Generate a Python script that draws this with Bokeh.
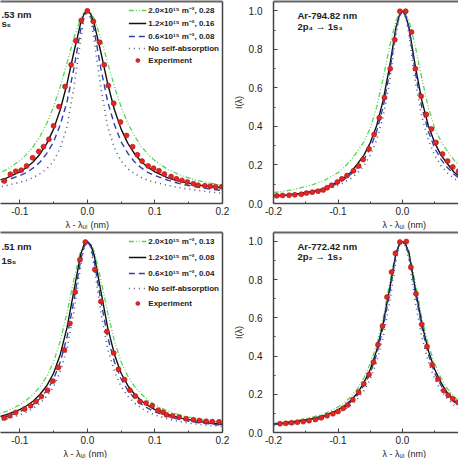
from bokeh.plotting import figure
from bokeh.layouts import column, row
from bokeh.models import (LinearAxis, SingleIntervalTicker, FixedTicker, PrintfTickFormatter,
                          Title, Legend, LegendItem, Range1d)
from bokeh.core.properties import value
from bokeh.embed import file_html
from bokeh.resources import INLINE

FONT = "Liberation Sans"

# common wavelength grid (nm) for model curves
X = [-0.20, -0.18, -0.16, -0.14, -0.12, -0.10, -0.09, -0.08, -0.07, -0.06, -0.05, -0.04,
     -0.03, -0.02, -0.01, -0.005, 0.0, 0.005, 0.01, 0.02, 0.03, 0.04, 0.05, 0.06, 0.07,
     0.08, 0.09, 0.10, 0.12, 0.14, 0.16, 0.18, 0.20]

series_names = ["2.0×10¹⁵ m⁻²", "1.2×10¹⁵ m⁻²", "0.6×10¹⁵ m⁻²", "No self-absorption", "Experiment"]

# ---- Top-left (visible part of the line label)
tl_text = [".53 nm", "s₅"]
tl_ratios = ["0.28", "0.16", "0.08"]
tl_green = [0.095, 0.107, 0.122, 0.144, 0.175, 0.222, 0.255, 0.296, 0.349, 0.416, 0.502, 0.608,
            0.731, 0.858, 0.960, 0.990, 1.0, 0.990, 0.960, 0.858, 0.731, 0.608, 0.502, 0.416,
            0.349, 0.296, 0.255, 0.222, 0.175, 0.144, 0.122, 0.107, 0.095]
tl_black = [0.081, 0.088, 0.098, 0.112, 0.132, 0.164, 0.187, 0.217, 0.257, 0.312, 0.386, 0.488,
            0.623, 0.785, 0.935, 0.983, 1.0, 0.983, 0.935, 0.785, 0.623, 0.488, 0.386, 0.312,
            0.257, 0.217, 0.187, 0.164, 0.132, 0.112, 0.098, 0.088, 0.081]
tl_blue = [0.067, 0.076, 0.087, 0.100, 0.120, 0.145, 0.160, 0.185, 0.215, 0.260, 0.320, 0.410,
           0.530, 0.700, 0.900, 0.972, 1.0, 0.972, 0.900, 0.700, 0.530, 0.410, 0.320, 0.260,
           0.215, 0.185, 0.160, 0.145, 0.120, 0.100, 0.087, 0.076, 0.067]
tl_dot = [0.053, 0.060, 0.070, 0.080, 0.093, 0.110, 0.120, 0.135, 0.155, 0.180, 0.220, 0.290,
          0.400, 0.600, 0.850, 0.960, 1.0, 0.960, 0.850, 0.600, 0.400, 0.290, 0.220, 0.180,
          0.155, 0.135, 0.120, 0.110, 0.093, 0.080, 0.070, 0.060, 0.053]
tl_exp_x = [-0.123, -0.114, -0.106, -0.098, -0.090, -0.081, -0.072, -0.065, -0.057, -0.050,
            -0.042, -0.033, -0.024, -0.017, -0.009, 0.0, 0.009, 0.018, 0.025, 0.031, 0.039,
            0.049, 0.058, 0.067, 0.074, 0.081, 0.090, 0.098, 0.106, 0.114, 0.124, 0.132,
            0.140, 0.148, 0.157, 0.164, 0.174, 0.182, 0.190, 0.199]
tl_exp_y = [0.117, 0.152, 0.167, 0.173, 0.195, 0.237, 0.270, 0.295, 0.333, 0.403, 0.503, 0.607,
            0.720, 0.845, 0.950, 1.0, 0.945, 0.837, 0.720, 0.612, 0.520, 0.423, 0.353, 0.295,
            0.253, 0.220, 0.195, 0.183, 0.170, 0.153, 0.140, 0.128, 0.120, 0.112, 0.103,
            0.095, 0.092, 0.090, 0.087, 0.087]

# ---- Top-right: Ar-794.82 nm
tr_text = ["Ar-794.82 nm", "2p₄ → 1s₃"]
tr_green = [0.056, 0.066, 0.080, 0.097, 0.122, 0.160, 0.190, 0.225, 0.270, 0.320, 0.390, 0.500,
            0.650, 0.815, 0.950, 0.985, 1.0, 0.985, 0.950, 0.815, 0.650, 0.500, 0.390, 0.320,
            0.270, 0.225, 0.190, 0.160, 0.122, 0.097, 0.080, 0.066, 0.056]
tr_black = [0.040, 0.045, 0.052, 0.062, 0.078, 0.114, 0.135, 0.162, 0.205, 0.250, 0.315, 0.405,
            0.535, 0.710, 0.915, 0.975, 1.0, 0.975, 0.915, 0.710, 0.535, 0.405, 0.315, 0.250,
            0.205, 0.162, 0.135, 0.114, 0.078, 0.062, 0.052, 0.045, 0.040]
tr_blue = [0.038, 0.043, 0.050, 0.060, 0.074, 0.105, 0.126, 0.152, 0.185, 0.228, 0.287, 0.375,
           0.500, 0.680, 0.905, 0.972, 1.0, 0.972, 0.905, 0.680, 0.500, 0.375, 0.287, 0.228,
           0.185, 0.152, 0.126, 0.105, 0.074, 0.060, 0.050, 0.043, 0.038]
tr_dot = [0.036, 0.040, 0.046, 0.055, 0.068, 0.094, 0.110, 0.130, 0.158, 0.195, 0.250, 0.330,
          0.450, 0.630, 0.880, 0.965, 1.0, 0.965, 0.880, 0.630, 0.450, 0.330, 0.250, 0.195,
          0.158, 0.130, 0.110, 0.094, 0.068, 0.055, 0.046, 0.040, 0.036]
tr_exp_x = [-0.195, -0.186, -0.176, -0.167, -0.157, -0.149, -0.140, -0.131, -0.123, -0.117,
            -0.110, -0.101, -0.094, -0.086, -0.076, -0.068, -0.061, -0.052, -0.044, -0.036,
            -0.028, -0.019, -0.012, -0.004, 0.005, 0.014, 0.020, 0.029, 0.037, 0.045, 0.052,
            0.062, 0.070, 0.078, 0.087]
tr_exp_y = [0.040, 0.042, 0.043, 0.045, 0.048, 0.054, 0.059, 0.064, 0.070, 0.082, 0.095, 0.112,
            0.128, 0.145, 0.170, 0.195, 0.228, 0.283, 0.358, 0.445, 0.550, 0.700, 0.850, 0.998,
            0.998, 0.890, 0.700, 0.557, 0.462, 0.387, 0.317, 0.257, 0.220, 0.190, 0.167]

# ---- Bottom-left (visible part of the line label)
bl_text = [".51 nm", "1s₅"]
bl_ratios = ["0.13", "0.08", "0.04"]
bl_green = [0.052, 0.060, 0.072, 0.088, 0.110, 0.145, 0.170, 0.200, 0.240, 0.295, 0.370, 0.480,
            0.630, 0.800, 0.950, 0.987, 1.0, 0.987, 0.950, 0.800, 0.630, 0.480, 0.370, 0.295,
            0.240, 0.200, 0.170, 0.145, 0.110, 0.088, 0.072, 0.060, 0.052]
bl_black = [0.043, 0.050, 0.061, 0.074, 0.093, 0.120, 0.140, 0.165, 0.200, 0.245, 0.310, 0.410,
            0.550, 0.740, 0.930, 0.982, 1.0, 0.982, 0.930, 0.740, 0.550, 0.410, 0.310, 0.245,
            0.200, 0.165, 0.140, 0.120, 0.093, 0.074, 0.061, 0.050, 0.043]
bl_blue = [0.038, 0.045, 0.054, 0.066, 0.083, 0.108, 0.126, 0.148, 0.178, 0.220, 0.280, 0.370,
           0.500, 0.690, 0.900, 0.972, 1.0, 0.972, 0.900, 0.690, 0.500, 0.370, 0.280, 0.220,
           0.178, 0.148, 0.126, 0.108, 0.083, 0.066, 0.054, 0.045, 0.038]
bl_dot = [0.032, 0.037, 0.045, 0.055, 0.070, 0.092, 0.107, 0.127, 0.153, 0.190, 0.240, 0.320,
          0.440, 0.630, 0.870, 0.965, 1.0, 0.965, 0.870, 0.630, 0.440, 0.320, 0.240, 0.190,
          0.153, 0.127, 0.107, 0.092, 0.070, 0.055, 0.045, 0.037, 0.032]
bl_exp_x = [-0.123, -0.115, -0.106, -0.093, -0.084, -0.076, -0.068, -0.059, -0.051, -0.043,
            -0.034, -0.026, -0.018, -0.011, -0.003, 0.011, 0.020, 0.029, 0.039, 0.046, 0.055,
            0.063, 0.071, 0.078, 0.087, 0.096, 0.105, 0.112, 0.117, 0.126, 0.136, 0.146,
            0.157, 0.166, 0.176, 0.185, 0.195]
bl_exp_y = [0.076, 0.088, 0.105, 0.123, 0.140, 0.162, 0.188, 0.221, 0.269, 0.340, 0.432, 0.571,
            0.736, 0.904, 0.997, 0.853, 0.686, 0.529, 0.416, 0.331, 0.277, 0.221, 0.191, 0.162,
            0.154, 0.140, 0.117, 0.106, 0.093, 0.087, 0.081, 0.072, 0.067, 0.063, 0.059,
            0.057, 0.056]

# ---- Bottom-right: Ar-772.42 nm
br_text = ["Ar-772.42 nm", "2p₂ → 1s₃"]
br_green = [0.048, 0.055, 0.066, 0.080, 0.100, 0.133, 0.157, 0.188, 0.228, 0.285, 0.360, 0.460,
            0.600, 0.780, 0.950, 0.987, 1.0, 0.987, 0.950, 0.780, 0.600, 0.460, 0.360, 0.285,
            0.228, 0.188, 0.157, 0.133, 0.100, 0.080, 0.066, 0.055, 0.048]
br_black = [0.044, 0.051, 0.060, 0.072, 0.090, 0.118, 0.140, 0.168, 0.205, 0.260, 0.330, 0.430,
            0.570, 0.750, 0.940, 0.984, 1.0, 0.984, 0.940, 0.750, 0.570, 0.430, 0.330, 0.260,
            0.205, 0.168, 0.140, 0.118, 0.090, 0.072, 0.060, 0.051, 0.044]
br_blue = [0.041, 0.047, 0.056, 0.068, 0.085, 0.112, 0.133, 0.160, 0.195, 0.245, 0.310, 0.410,
           0.550, 0.730, 0.930, 0.981, 1.0, 0.981, 0.930, 0.730, 0.550, 0.410, 0.310, 0.245,
           0.195, 0.160, 0.133, 0.112, 0.085, 0.068, 0.056, 0.047, 0.041]
br_dot = [0.037, 0.042, 0.050, 0.061, 0.077, 0.102, 0.120, 0.143, 0.175, 0.218, 0.280, 0.370,
          0.500, 0.680, 0.900, 0.974, 1.0, 0.974, 0.900, 0.680, 0.500, 0.370, 0.280, 0.218,
          0.175, 0.143, 0.120, 0.102, 0.077, 0.061, 0.050, 0.042, 0.037]
br_exp_x = [-0.190, -0.181, -0.172, -0.163, -0.154, -0.145, -0.135, -0.126, -0.117, -0.108,
            -0.100, -0.092, -0.085, -0.077, -0.068, -0.060, -0.052, -0.045, -0.038, -0.031,
            -0.024, -0.017, -0.011, -0.004, 0.006, 0.013, 0.021, 0.030, 0.038, 0.046, 0.055,
            0.064, 0.071, 0.078, 0.086]
br_exp_y = [0.046, 0.048, 0.051, 0.054, 0.057, 0.062, 0.068, 0.077, 0.088, 0.098, 0.110, 0.127,
            0.144, 0.172, 0.211, 0.255, 0.304, 0.368, 0.460, 0.557, 0.709, 0.840, 0.938, 0.997,
            1.0, 0.865, 0.726, 0.566, 0.450, 0.355, 0.280, 0.220, 0.195, 0.177, 0.157]

STYLES = [
    dict(line_color="#55d655", line_width=1.3, line_dash="5 2 1 2 1 2"),
    dict(line_color="#111111", line_width=1.4),
    dict(line_color="#2f3fae", line_width=1.4, line_dash="6 4"),
    dict(line_color="#4a5a7c", line_width=1.6, line_dash="1 4"),
]
AXIS_COL = "#444444"


def border_axis(color, width):
    return LinearAxis(ticker=FixedTicker(ticks=[]), axis_line_color=color, axis_line_width=width,
                      major_tick_in=0, major_tick_out=0, minor_tick_in=0, minor_tick_out=0,
                      major_label_text_font_size="0px", major_label_standoff=0,
                      axis_label=None)


def panel(side, width, height, xr, yr, mb, curves, ex, ey, labels, lab_x, lab_y,
          leg_labels, leg_spacing, leg_loc, title_offset):
    p = figure(width=width, height=height, x_range=Range1d(*xr), y_range=Range1d(*yr),
               output_backend="svg", toolbar_location=None, title_location=None,
               y_axis_location=("left" if side == "right" else None),
               min_border_left=mb[0], min_border_right=mb[1], min_border_top=mb[2],
               min_border_bottom=mb[3])
    p.outline_line_color = None
    p.grid.visible = False
    p.background_fill_color = "white"
    p.border_fill_color = "white"

    xa = p.xaxis[0]
    xa.ticker = SingleIntervalTicker(interval=0.1, num_minor_ticks=2)
    xa.formatter = PrintfTickFormatter(format="%.1f")
    for ax in [xa] + ([p.yaxis[0]] if side == "right" else []):
        ax.major_tick_in = 4
        ax.major_tick_out = 0
        ax.minor_tick_in = 2
        ax.minor_tick_out = 0
        ax.axis_line_color = AXIS_COL
        ax.axis_line_width = 1.5
        ax.major_tick_line_color = AXIS_COL
        ax.minor_tick_line_color = AXIS_COL
        ax.major_label_text_font = FONT
        ax.major_label_text_font_size = "10px"
        ax.major_label_text_color = "#222222"
    xa.major_label_standoff = 3
    xa.axis_label = None
    if side == "right":
        ya = p.yaxis[0]
        ya.ticker = SingleIntervalTicker(interval=0.2, num_minor_ticks=2)
        ya.formatter = PrintfTickFormatter(format="%.1f")
        ya.major_label_standoff = 11
        ya.axis_label = "I(λ)"
        ya.axis_label_standoff = 2
        ya.axis_label_text_font = FONT
        ya.axis_label_text_font_size = "9px"
        ya.axis_label_text_font_style = "normal"
        ya.axis_label_text_color = "#222222"

    p.add_layout(border_axis("#666666", 2), "above")
    if side == "left":
        p.add_layout(border_axis(AXIS_COL, 1.5), "right")

    t = Title(text="λ - λᵤₗ (nm)", align="left", offset=title_offset, standoff=0,
              text_font=FONT, text_font_size="9px", text_font_style="normal",
              text_color="#222222")
    p.add_layout(t, "below")

    rends = []
    for ys, st in zip(curves, STYLES):
        rends.append(p.line(X, ys, **st))
    rends.append(p.scatter(ex, ey, size=5, marker="circle", fill_color="#e3261f",
                           line_color="#a8141a", line_width=0.6))

    p.text(x=[lab_x, lab_x], y=lab_y, text=labels, text_font=value(FONT),
           text_font_style="bold", text_font_size="9.5px", text_baseline="middle",
           text_align="left", text_color="#222222")

    items = [LegendItem(label=l, renderers=[r]) for l, r in zip(leg_labels, rends)]
    leg = Legend(items=items, location=leg_loc, border_line_color=None,
                 background_fill_alpha=0, label_text_font=FONT, label_text_font_size="8px",
                 label_text_font_style="bold", label_text_color="#222222",
                 glyph_width=18, glyph_height=10, label_height=10, label_standoff=2,
                 spacing=leg_spacing, padding=0, margin=3)
    p.add_layout(leg)
    return p


def full_labels(ratios):
    return [f"{series_names[i]}, {ratios[i]}" for i in range(3)] + series_names[3:]


# right-hand panels: only the legend samples show at the cropped edge
stub_labels = [" "] * 5

tl = panel("left", 230, 230, (-0.1286, 0.2001), (0, 1.0485), (0, 8, 1, 27),
           [tl_green, tl_black, tl_blue, tl_dot], tl_exp_x, tl_exp_y,
           tl_text, -0.1272, [0.983, 0.932],
           full_labels(tl_ratios), 2, "top_right", 65)
tr = panel("right", 228, 230, (-0.2001, 0.0869), (0, 1.0485), (34, 0, 1, 27),
           [tr_green, tr_black, tr_blue, tr_dot], tr_exp_x, tr_exp_y,
           tr_text, -0.163, [0.975, 0.92],
           stub_labels, 4, (187, 132), 109)
bl = panel("left", 230, 228, (-0.1286, 0.2001), (0, 1.047), (0, 8, 2, 26),
           [bl_green, bl_black, bl_blue, bl_dot], bl_exp_x, bl_exp_y,
           bl_text, -0.1272, [0.972, 0.90],
           full_labels(bl_ratios), 5, "top_right", 63)
br = panel("right", 228, 228, (-0.2001, 0.0869), (0, 1.047), (34, 0, 2, 26),
           [br_green, br_black, br_blue, br_dot], br_exp_x, br_exp_y,
           br_text, -0.163, [0.972, 0.92],
           stub_labels, 3, (187, 132), 109)

layout = column(row(tl, tr, spacing=0), row(bl, br, spacing=0), spacing=0)
open("out.html", "w").write(file_html(layout, INLINE))
